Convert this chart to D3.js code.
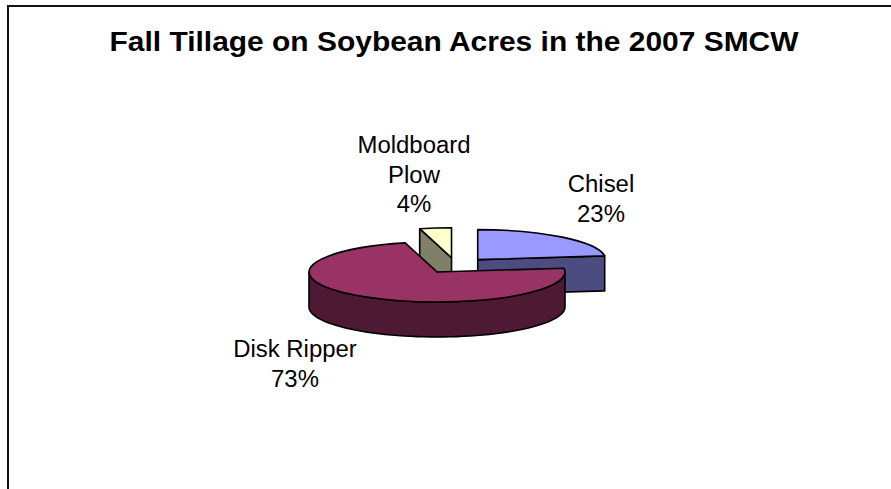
<!DOCTYPE html>
<html>
<head>
<meta charset="utf-8">
<script src="https://cdn.jsdelivr.net/npm/d3@7"></script>
<style>
  html, body { margin: 0; padding: 0; background: #ffffff; }
  svg { display: block; }
  text { font-family: "Liberation Sans", Arial, sans-serif; fill: #000; }
</style>
</head>
<body>
<svg id="chart" width="891" height="489"></svg>
<script>
// Fall tillage shares on soybean acres, 2007 SMCW
const categories = ["Chisel", "Disk Ripper", "Moldboard Plow"];
const shares = [23, 73, 4];
const chartTitle = "Fall Tillage on Soybean Acres in the 2007 SMCW";

// Slice colours: top face and the shaded side faces
const topColors = ["#9999FF", "#993366", "#FFFFCC"];
const sideColors = ["#4C4C80", "#4D1933", "#808066"];

// Label anchor points (centre x, first baseline y)
const labelAnchors = [[601, 192], [295, 357], [414, 153]];

const W = 891, H = 489;
const svg = d3.select("#chart");

// Chart frame (runs past the right and bottom edges)
svg.append("rect")
  .attr("x", 8).attr("y", 6)
  .attr("width", W + 20).attr("height", H + 20)
  .attr("fill", "none").attr("stroke", "#111").attr("stroke-width", 2);

// Title
svg.append("text")
  .attr("transform", "translate(454,51) scale(1.07,1)")
  .attr("text-anchor", "middle")
  .attr("font-weight", "bold")
  .attr("font-size", 28)
  .text(chartTitle);

// 3-D pie geometry
const cx = 455.7, cy = 265.5;
const rx = 128, ry = 30, depth = 35, explode = 0.26;

const pie = d3.pie().sort(null).value(d => d.value).startAngle(0).endAngle(2 * Math.PI);
const slices = pie(categories.map((c, i) => ({ name: c, value: shares[i], i })));

slices.forEach(s => {
  const mid = (s.startAngle + s.endAngle) / 2;
  s.ox = cx + explode * rx * Math.sin(mid);
  s.oy = cy - explode * ry * Math.cos(mid);
});

const pt = (s, a, dy = 0) => [s.ox + rx * Math.sin(a), s.oy - ry * Math.cos(a) + dy];
const line = d3.line();
const strokeAttrs = sel => sel.attr("stroke", "#000").attr("stroke-width", 1.6).attr("stroke-linejoin", "round");

const arcGen = d3.arc().innerRadius(0).outerRadius(rx);

// Paint back-to-front
const order = slices.slice().sort((a, b) => a.oy - b.oy);
const g = svg.append("g");

order.forEach(s => {
  const i = s.data.i;
  const a0 = s.startAngle, a1 = s.endAngle;

  // radial cut face at the start edge
  if (Math.sin(a0) < -1e-6) {
    const p = pt(s, a0);
    g.append("path")
      .attr("d", line([[s.ox, s.oy], p, [p[0], p[1] + depth], [s.ox, s.oy + depth]]) + "Z")
      .attr("fill", sideColors[i]).call(strokeAttrs);
  }
  // radial cut face at the end edge
  if (Math.sin(a1) > 1e-6) {
    const p = pt(s, a1);
    g.append("path")
      .attr("d", line([[s.ox, s.oy], p, [p[0], p[1] + depth], [s.ox, s.oy + depth]]) + "Z")
      .attr("fill", sideColors[i]).call(strokeAttrs);
  }
  // outer curved wall, front half only
  const ws = Math.max(a0, Math.PI / 2), we = Math.min(a1, 3 * Math.PI / 2);
  if (we > ws) {
    const n = 60;
    const topPts = d3.range(n + 1).map(k => pt(s, ws + (we - ws) * k / n));
    const botPts = topPts.map(p => [p[0], p[1] + depth]).reverse();
    g.append("path")
      .attr("d", line(topPts.concat(botPts)) + "Z")
      .attr("fill", sideColors[i]).call(strokeAttrs);
  }
  // top face
  g.append("path")
    .attr("d", arcGen(s))
    .attr("transform", `translate(${s.ox},${s.oy}) scale(1,${ry / rx})`)
    .attr("vector-effect", "non-scaling-stroke")
    .attr("fill", topColors[i]).call(strokeAttrs);
});

// Data labels: category name (wrapped) and percentage
const labelSize = 23, lineGap = 29.5, maxLabelWidth = 135;
const probe = svg.append("text").attr("font-size", labelSize);
function wrap(name) {
  probe.text(name);
  if (probe.node().getComputedTextLength() * 1.04 <= maxLabelWidth) return [name];
  return name.split(" ");
}
slices.forEach(s => {
  const i = s.data.i;
  const lines = wrap(s.data.name).concat([`${s.data.value}%`]);
  const [lx, ly] = labelAnchors[i];
  lines.forEach((t, k) => {
    svg.append("text")
      .attr("transform", `translate(${lx},${ly + k * lineGap}) scale(1.04,1)`)
      .attr("text-anchor", "middle")
      .attr("font-size", labelSize)
      .text(t);
  });
});
probe.remove();
</script>
</body>
</html>
